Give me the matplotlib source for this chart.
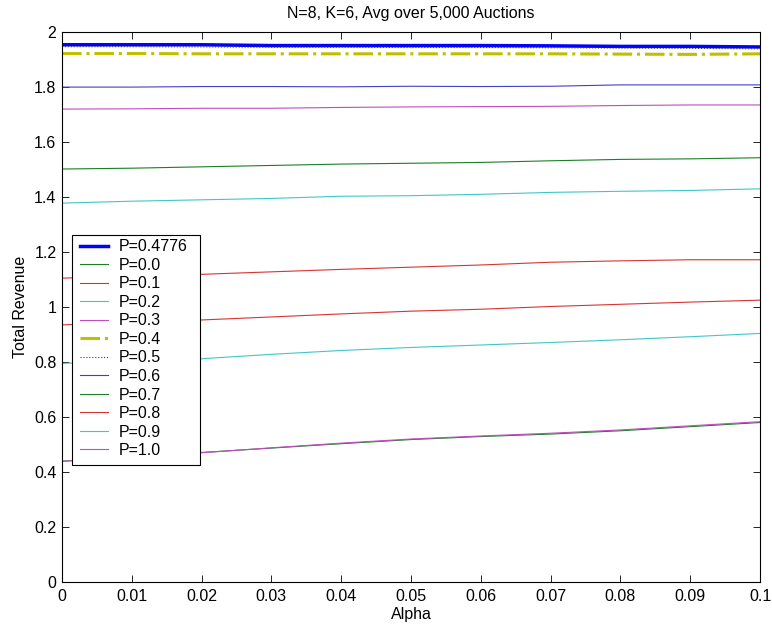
import matplotlib
matplotlib.use("Agg")
import matplotlib.pyplot as plt
from matplotlib.patches import Rectangle
import numpy as np

plt.rcParams['font.family'] = ['Liberation Sans', 'DejaVu Sans']

alpha = [0.0, 0.01, 0.02, 0.03, 0.04, 0.05, 0.06, 0.07, 0.08, 0.09, 0.1]

rev_opt = [1.954, 1.954, 1.954, 1.951, 1.951, 1.951, 1.951, 1.950, 1.948, 1.948, 1.946]
rev_p00 = [0.439, 0.455, 0.471, 0.487, 0.503, 0.518, 0.529, 0.538, 0.550, 0.565, 0.580]
rev_p01 = [0.935, 0.945, 0.953, 0.964, 0.975, 0.985, 0.992, 1.002, 1.010, 1.018, 1.025]
rev_p02 = [1.378, 1.385, 1.390, 1.395, 1.403, 1.405, 1.410, 1.417, 1.421, 1.424, 1.430]
rev_p03 = [1.720, 1.721, 1.723, 1.723, 1.726, 1.728, 1.729, 1.730, 1.733, 1.735, 1.735]
rev_p04 = [1.922, 1.922, 1.921, 1.921, 1.921, 1.921, 1.921, 1.921, 1.920, 1.919, 1.921]
rev_p05 = [1.947, 1.947, 1.946, 1.945, 1.945, 1.944, 1.944, 1.943, 1.942, 1.941, 1.939]
rev_p06 = [1.800, 1.800, 1.802, 1.802, 1.801, 1.803, 1.802, 1.803, 1.808, 1.808, 1.808]
rev_p07 = [1.502, 1.505, 1.510, 1.515, 1.520, 1.523, 1.526, 1.532, 1.537, 1.539, 1.543]
rev_p08 = [1.105, 1.113, 1.119, 1.128, 1.137, 1.145, 1.153, 1.163, 1.168, 1.172, 1.172]
rev_p09 = [0.795, 0.804, 0.812, 0.828, 0.842, 0.853, 0.862, 0.871, 0.881, 0.892, 0.904]
rev_p10 = [0.439, 0.455, 0.470, 0.488, 0.505, 0.520, 0.531, 0.541, 0.553, 0.568, 0.583]

labels = ["P=0.4776", "P=0.0", "P=0.1", "P=0.2", "P=0.3", "P=0.4", "P=0.5",
          "P=0.6", "P=0.7", "P=0.8", "P=0.9", "P=1.0"]

blue = (0, 0, 1)
green = (0.1, 0.5, 0.15)
red = (0.85, 0.2, 0.2)
cyan = (0.25, 0.78, 0.78)
magenta = (0.75, 0.3, 0.75)
yellow = (0.75, 0.75, 0)
gray = (0.25, 0.25, 0.25)
slate = (0.25, 0.25, 0.8)

series = [
    (rev_opt, blue, '-', 2.5),
    (rev_p00, green, '-', 0.8),
    (rev_p01, red, '-', 0.8),
    (rev_p02, cyan, '-', 0.8),
    (rev_p03, magenta, '-', 0.8),
    (rev_p04, yellow, '-.', 2.2),
    (rev_p05, gray, ':', 0.8),
    (rev_p06, slate, '-', 0.8),
    (rev_p07, green, '-', 0.8),
    (rev_p08, red, '-', 0.8),
    (rev_p09, cyan, '-', 0.8),
    (rev_p10, magenta, '-', 0.8),
]

fs = 11.5

fig = plt.figure(figsize=(7.72, 6.27), dpi=100)
ax = fig.add_axes([0.0803, 0.0718, 0.9042, 0.877])

for (vals, col, ls, lw), lab in zip(series, labels):
    ax.plot(alpha, vals, color=col, linestyle=ls, linewidth=lw, label=lab)

ax.set_xlim(0, 0.1)
ax.set_ylim(0, 2)
ax.set_xticks(np.arange(0, 0.1001, 0.01))
ax.set_xticklabels(["0", "0.01", "0.02", "0.03", "0.04", "0.05", "0.06",
                    "0.07", "0.08", "0.09", "0.1"])
ax.set_yticks(np.arange(0, 2.001, 0.2))
ax.set_yticklabels(["0", "0.2", "0.4", "0.6", "0.8", "1", "1.2", "1.4",
                    "1.6", "1.8", "2"])
ax.tick_params(direction='in', top=True, right=True, length=5, width=0.6,
               labelsize=fs)
ax.tick_params(axis='x', pad=5)
ax.tick_params(axis='y', pad=4)
for sp in ax.spines.values():
    sp.set_linewidth(0.8)

ax.set_title("N=8, K=6, Avg over 5,000 Auctions", fontsize=fs, pad=10)
ax.set_xlabel("Alpha", fontsize=fs, labelpad=2)
ax.set_ylabel("Total Revenue", fontsize=fs)
ax.yaxis.set_label_coords(-0.060, 0.5)
ax.yaxis.label.set_va('center')

# legend entries without their own frame, boxed by a plain rectangle
leg = ax.legend(loc='upper left', bbox_to_anchor=(0.0258, 0.623),
                borderaxespad=0, borderpad=0, fontsize=fs,
                handlelength=1.75, labelspacing=0.22, handletextpad=0.7,
                frameon=False)
leg.set_zorder(5)
ax.add_patch(Rectangle((0.0139, 0.2127), 0.1838, 0.418, transform=ax.transAxes,
                       facecolor='white', edgecolor='black', linewidth=0.8,
                       zorder=4))

fig.savefig("out.png", dpi=100)
